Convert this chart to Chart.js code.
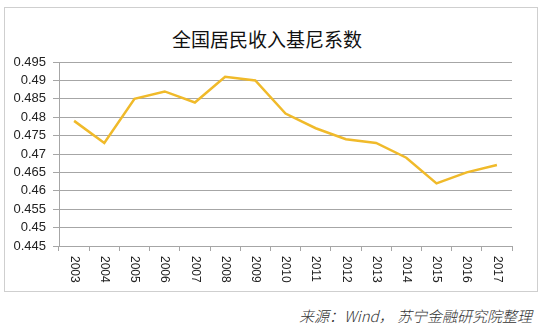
<!DOCTYPE html>
<html><head><meta charset="utf-8">
<script src="https://cdn.jsdelivr.net/npm/chart.js@4"></script>
<style>
html,body{margin:0;padding:0;background:#fff;width:542px;height:333px;overflow:hidden;}
#frame{position:absolute;left:4px;top:7px;width:532px;height:283px;border:1px solid #cfcfcf;}
#wrap{position:absolute;left:0;top:0;width:532px;height:283px;}
#title{position:absolute;left:0;top:19px;width:524px;text-align:center;font-family:"Noto Sans CJK SC";font-size:19px;color:#111;line-height:24px;}
#source{position:absolute;right:10px;top:306px;font-family:"Noto Sans CJK SC","Liberation Sans";font-style:italic;font-size:15px;font-weight:300;color:#333;line-height:20px;}
</style></head>
<body>
<div id="frame"><div id="title">全国居民收入基尼系数</div><div id="wrap"><canvas id="c"></canvas></div></div>
<div id="source">来源：Wind， 苏宁金融研究院整理</div>
<script>
const years = ['2003','2004','2005','2006','2007','2008','2009','2010','2011','2012','2013','2014','2015','2016','2017'];
const gini = [0.479,0.473,0.485,0.487,0.484,0.491,0.490,0.481,0.477,0.474,0.473,0.469,0.462,0.465,0.467];
const yTicks = [0.445,0.45,0.455,0.46,0.465,0.47,0.475,0.48,0.485,0.49,0.495];

const rotLabels = {
  id:'rotLabels',
  afterDraw(chart){
    const xs = chart.scales.x, ctx = chart.ctx;
    ctx.save();
    ctx.font = '12px "Liberation Sans"';
    ctx.fillStyle = '#222';
    ctx.textAlign = 'left';
    ctx.textBaseline = 'middle';
    years.forEach((y,i)=>{
      const px = xs.getPixelForValue(i);
      ctx.save();
      ctx.translate(px, xs.top + 10);
      ctx.rotate(Math.PI/2);
      ctx.fillText(y, 0, 0);
      ctx.restore();
    });
    ctx.restore();
  }
};

new Chart(document.getElementById('c'), {
  type:'line',
  data:{labels:years, datasets:[{data:gini, borderColor:'#f0ba2a', borderWidth:2.5, pointRadius:0, tension:0, fill:false}]},
  options:{
    responsive:true, maintainAspectRatio:false, animation:false,
    layout:{padding:{top:54,left:0,right:25,bottom:0}},
    plugins:{legend:{display:false}, tooltip:{enabled:false}, title:{display:false}},
    scales:{
      x:{
        offset:true,
        grid:{display:true, offset:true, drawOnChartArea:false, drawTicks:true, tickLength:5, color:'#a6a6a6'},
        border:{display:true, color:'#a6a6a6', width:1},
        ticks:{display:false, autoSkip:false},
        afterFit(s){ s.height = 45; }
      },
      y:{
        min:0.445, max:0.495,
        afterBuildTicks(s){ s.ticks = yTicks.map(v=>({value:v})); },
        grid:{color:'#a6a6a6', drawTicks:true, tickLength:6},
        border:{display:true, color:'#a6a6a6', width:1},
        ticks:{autoSkip:false, padding:7, color:'#222', font:{family:'Liberation Sans', size:13}, callback:v=>String(Number(v.toFixed(3)))},
        afterFit(s){ s.width = 54; }
      }
    }
  },
  plugins:[rotLabels]
});
</script>
</body></html>
